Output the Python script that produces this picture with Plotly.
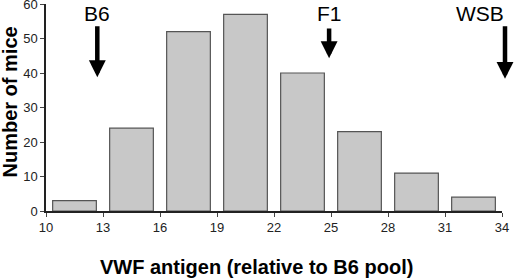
import plotly.graph_objects as go

bin_centers = [11.5, 14.5, 17.5, 20.5, 23.5, 26.5, 29.5, 32.5]
counts = [3, 24, 52, 57, 40, 23, 11, 4]
x_ticks = [10, 13, 16, 19, 22, 25, 28, 31, 34]
y_ticks = [0, 10, 20, 30, 40, 50, 60]
marker_labels = ["B6", "F1", "WSB"]
marker_x = [12.7, 24.9, 34.0]
arrow_shift = [0, 0, 3]
label_shift = [0, 0, -22]
arrow_top = [54, 53.3, 54]
arrow_tip = [38.8, 44.3, 38.3]

FONT = "Liberation Sans, Arial, sans-serif"

fig = go.Figure()
fig.add_trace(go.Bar(
    x=bin_centers, y=counts, width=2.3,
    marker=dict(color="#c8c8c8", line=dict(color="#555555", width=1.2)),
))

for lab, xv, ash, sh, top, tip in zip(marker_labels, marker_x, arrow_shift, label_shift,
                                      arrow_top, arrow_tip):
    fig.add_annotation(x=xv, y=tip, ax=xv, ay=top, xref="x", yref="y", axref="x", ayref="y",
                       showarrow=True, arrowhead=2, arrowsize=0.75, arrowwidth=4.5,
                       arrowcolor="#000000", text="", xshift=ash)
    fig.add_annotation(x=xv, y=57.3, xref="x", yref="y", text=lab, showarrow=False,
                       xshift=sh,
                       font=dict(family=FONT, size=21, color="#000000"),
                       xanchor="center", yanchor="middle")

fig.add_annotation(x=0.4616, y=-0.2705, xref="paper", yref="paper",
                   text="<b>VWF antigen (relative to B6 pool)</b>", showarrow=False,
                   xanchor="center", yanchor="middle",
                   font=dict(family=FONT, size=20, color="#000000"))
fig.add_annotation(x=-0.0800, y=0.5266, xref="paper", yref="paper",
                   text="<b>Number of mice</b>", showarrow=False, textangle=-90,
                   xanchor="center", yanchor="middle",
                   font=dict(family=FONT, size=20, color="#000000"))

fig.update_layout(
    width=520, height=278,
    margin=dict(l=46, r=18, t=4, b=67),
    paper_bgcolor="white", plot_bgcolor="white",
    showlegend=False,
    font=dict(family=FONT, size=13, color="#222222"),
    xaxis=dict(range=[10, 34], tickvals=x_ticks, ticks="outside", ticklen=4,
               showline=True, linecolor="#222222", linewidth=1.5, showgrid=False,
               zeroline=False, tickfont=dict(size=13, color="#222222"),
               ticklabeloverflow="allow", automargin=False),
    yaxis=dict(range=[0, 60], tickvals=y_ticks, ticks="outside", ticklen=4,
               showline=True, linecolor="#222222", linewidth=1.5, showgrid=False,
               zeroline=False, tickfont=dict(size=13, color="#222222"),
               ticklabeloverflow="allow", automargin=False),
)

fig.write_html("out.html",
               config={"displayModeBar": False},
               post_script="document.body.style.margin='0';document.body.style.overflow='hidden';")
